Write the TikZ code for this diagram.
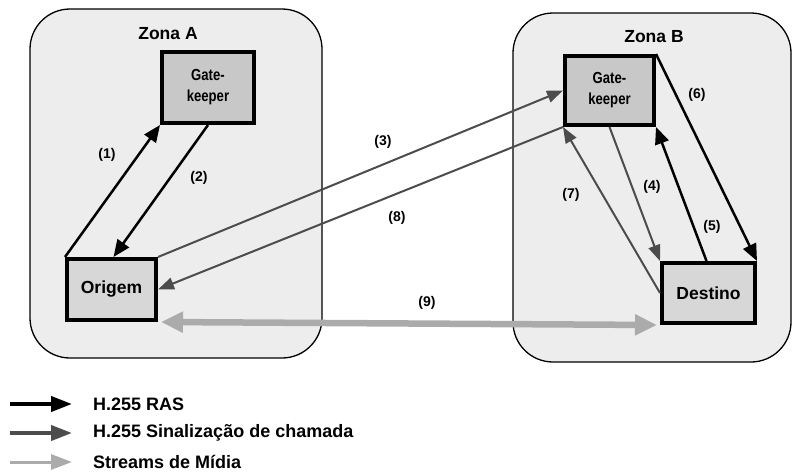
\documentclass[tikz,border=0pt]{standalone}
\usepackage{fontspec}
\setmainfont{Liberation Sans}
\usetikzlibrary{arrows.meta,calc}
\definecolor{zonefill}{HTML}{EDEDED}
\definecolor{gkfill}{HTML}{C8C8C8}
\definecolor{epfill}{HTML}{D7D7D7}
\definecolor{sigcol}{HTML}{4C4C4C}
\definecolor{mediacol}{HTML}{ABABAB}
\begin{document}
\begin{tikzpicture}[x=1pt,y=-1pt,
  zone/.style={draw=black,line width=1.3pt,fill=zonefill,rounded corners=40pt},
  box/.style={draw=black,line width=4pt,inner sep=0pt,align=center,
    font=\fontsize{17.5}{19}\selectfont\bfseries},
  gkbox/.style={box,fill=gkfill,font=\fontsize{16}{21}\selectfont\bfseries},
  epbox/.style={box,fill=epfill},
  ras/.style={draw=black,line width=2.5pt,-{Triangle[length=17pt,width=14pt]}},
  sig/.style={draw=sigcol,line width=2pt,-{Triangle[length=16pt,width=12pt]}},
  media/.style={draw=mediacol,line width=6.5pt,
    {Triangle[length=22pt,width=20pt]}-{Triangle[length=22pt,width=20pt]}},
  numlbl/.style={font=\fontsize{14}{16}\selectfont\bfseries,inner sep=0pt},
  zonelbl/.style={font=\fontsize{17.5}{19}\selectfont\bfseries,inner sep=0pt},
  leglbl/.style={font=\fontsize{18}{20}\selectfont\bfseries,anchor=west,inner sep=0pt}]
\useasboundingbox (0,0) rectangle (793,474);

% zones
\draw[zone] (30,9) rectangle (322,358);
\draw[zone] (513,13) rectangle (791,362);
\node[zonelbl] (zA) at (168,34) {Zona A};
\node[zonelbl] (zB) at (654,37) {Zona B};

% nodes
\node[gkbox,minimum width=92pt,minimum height=71pt] (gka) at (208,87.5)
  {\scalebox{0.82}[1]{Gate-}\\\scalebox{0.82}[1]{keeper}};
\node[gkbox,minimum width=89pt,minimum height=69pt] (gkb) at (609.5,90.5)
  {\scalebox{0.82}[1]{Gate-}\\\scalebox{0.82}[1]{keeper}};
\node[epbox,minimum width=89pt,minimum height=61pt] (orig) at (111.5,289.5) {Origem};
\node[epbox,minimum width=93pt,minimum height=60pt] (dest) at (708.5,293) {Destino};

% connectors
\draw[ras] (orig.north west) -- (gka.south west);
\draw[ras] (gka.south) -- ([xshift=2pt]orig.north);
\draw[sig] (orig.north east) -- (gkb.west);
\draw[sig] (gkb.south west) -- (orig.east);
\draw[sig] (gkb.south) -- (dest.north west);
\draw[sig] (dest.west) -- (gkb.south west);
\draw[ras] ([xshift=-2pt]dest.north) -- (gkb.south east);
\draw[ras] (gkb.north east) -- (dest.north east);
\draw[media] ([xshift=3pt]orig.south east) -- ([xshift=-3pt]dest.south west);

% step labels
\node[numlbl] (l1) at (107,155) {(1)};
\node[numlbl] (l2) at (199,178) {(2)};
\node[numlbl] (l3) at (383,142) {(3)};
\node[numlbl] (l8) at (397,218) {(8)};
\node[numlbl] (l4) at (652,187) {(4)};
\node[numlbl] (l5) at (712,227) {(5)};
\node[numlbl] (l6) at (697,95) {(6)};
\node[numlbl] (l7) at (571,195) {(7)};
\node[numlbl] (l9) at (427,303) {(9)};

% legend
\coordinate (a1) at (10,404); \coordinate (b1) at (72,404);
\coordinate (a2) at (10,433); \coordinate (b2) at (72,433);
\coordinate (a3) at (10,462); \coordinate (b3) at (72,462);
\draw[draw=black,line width=4pt,-{Triangle[length=21pt,width=15pt]}] (a1) -- (b1);
\draw[draw=sigcol,line width=4pt,-{Triangle[length=21pt,width=15pt]}] (a2) -- (b2);
\draw[draw=mediacol,line width=3pt,-{Triangle[length=21pt,width=15pt]}] (a3) -- (b3);
\node[leglbl] (t1) at (93,404) {H.255 RAS};
\node[leglbl] (t2) at (93,433) {H.255 Sinalização de chamada};
\node[leglbl] (t3) at (93,462) {Streams de Mídia};
\end{tikzpicture}
\end{document}
